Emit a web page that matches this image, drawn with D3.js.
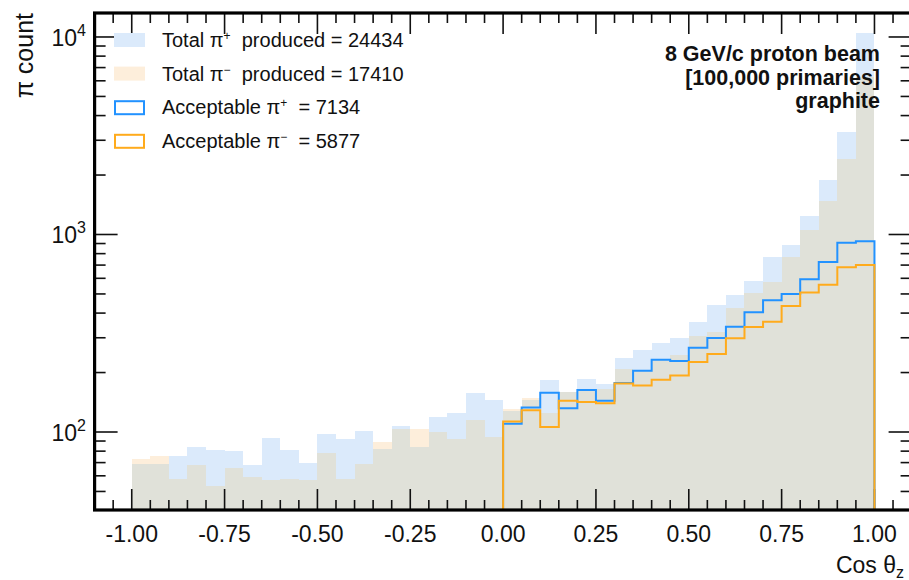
<!DOCTYPE html>
<html>
<head>
<meta charset="utf-8">
<script src="https://cdn.jsdelivr.net/npm/d3@7"></script>
<style>
  html, body { margin: 0; padding: 0; background: #fff; }
  svg { display: block; font-family: "Liberation Sans", Arial, Helvetica, sans-serif; }
</style>
</head>
<body>
<svg id="chart" width="909" height="580"></svg>
<script>
// Cos(theta_z) histogram, 40 bins of width 0.05 from -1 to 1
const binEdges = d3.range(41).map(i => -1 + i * 0.05);

// Total pi+ produced per bin
const totalPiPlus = [
  69, 69, 76, 84, 81, 80, 68, 93, 81, 70,
  98, 92, 101, 82, 107, 84, 119, 125, 157, 145,
  128, 146, 183, 159, 185, 174, 238, 260, 281, 299,
  359, 438, 494, 579, 769, 885, 1245, 1888, 3315, 10516
];

// Total pi- produced per bin
const totalPiMinus = [
  73, 76, 58, 68, 53, 66, 59, 57, 58, 57,
  78, 58, 69, 89, 104, 104, 100, 92, 115, 94,
  131, 148, 125, 159, 164, 165, 209, 203, 232, 245,
  306, 322, 426, 507, 575, 772, 1054, 1478, 2403, 6250
];

// Acceptable pions exist only for forward bins (0 .. 1)
const acceptBinEdges = d3.range(21).map(i => i * 0.05);
const acceptPiPlus = [
  110, 133, 158, 132, 163, 144, 177, 204, 232, 229,
  267, 299, 341, 404, 464, 500, 593, 726, 909, 924
];
const acceptPiMinus = [
  113, 129, 106, 144, 142, 140, 176, 172, 184, 193,
  226, 248, 298, 340, 362, 434, 509, 556, 683, 700
];

const xTickValues = [-1, -0.75, -0.5, -0.25, 0, 0.25, 0.5, 0.75, 1];
const yMajorTicks = [100, 1000, 10000];
const yTickExponents = ["2", "3", "4"];

const legendLabels = [
  { pre: "Total \u03c0", sup: "+", post: "  produced = 24434" },
  { pre: "Total \u03c0", sup: "\u2212", post: "  produced = 17410" },
  { pre: "Acceptable \u03c0", sup: "+", post: "  = 7134" },
  { pre: "Acceptable \u03c0", sup: "\u2212", post: "  = 5877" }
];
const headerLines = ["8 GeV/c proton beam", "[100,000 primaries]", "graphite"];

// colours
const cBlueFill = "#dbeafb";
const cOrangeFill = "#fdeedb";
const cOverlap = "#e0e1d9";
const cBlueLine = "#2292ff";
const cOrangeLine = "#ffab1c";

const svg = d3.select("#chart");
const plotLeft = 94.6, plotRight = 911.6, plotTop = 13, plotBottom = 510;

const x = d3.scaleLinear().domain([-1.1, 1.1]).range([plotLeft, plotRight]);
const y = d3.scaleLog().domain([40.28, 13226]).range([plotBottom, plotTop]);

svg.append("clipPath").attr("id", "plotClip")
  .append("rect").attr("x", plotLeft).attr("y", plotTop)
  .attr("width", plotRight - plotLeft).attr("height", plotBottom - plotTop);

const plot = svg.append("g").attr("clip-path", "url(#plotClip)");

const bins = totalPiPlus.map((v, i) => ({
  lo: binEdges[i], hi: binEdges[i + 1],
  plus: v, minus: totalPiMinus[i]
}));

function barLayer(cls, valueOf, color) {
  plot.append("g").attr("class", cls).selectAll("rect").data(bins).join("rect")
    .attr("x", d => x(d.lo))
    .attr("width", d => x(d.hi) - x(d.lo))
    .attr("y", d => y(valueOf(d)))
    .attr("height", d => plotBottom - y(valueOf(d)))
    .attr("fill", color)
    .attr("shape-rendering", "crispEdges");
}
barLayer("tot-plus", d => d.plus, cBlueFill);
barLayer("tot-minus", d => d.minus, cOrangeFill);
barLayer("overlap", d => Math.min(d.plus, d.minus), cOverlap);

// ticks
const xMinor = d3.range(-22, 23).map(i => i * 0.05).filter(v => v > -1.1 && v < 1.1);
const isMajorX = v => Math.abs(v * 4 - Math.round(v * 4)) < 1e-6;
const tickG = svg.append("g").attr("stroke", "#111");
xMinor.forEach(v => {
  const len = isMajorX(v) ? 21 : 10;
  tickG.append("line").attr("x1", x(v)).attr("x2", x(v))
    .attr("y1", plotBottom).attr("y2", plotBottom - len).attr("stroke-width", 1.6);
  tickG.append("line").attr("x1", x(v)).attr("x2", x(v))
    .attr("y1", plotTop).attr("y2", plotTop + len).attr("stroke-width", 1.6);
});
const yMinor = [];
[10, 100, 1000].forEach(dec => d3.range(2, 10).forEach(k => {
  const v = dec * k;
  if (v > y.domain()[0] && v < y.domain()[1]) yMinor.push(v);
}));
yMinor.forEach(v => {
  tickG.append("line").attr("x1", plotLeft).attr("x2", plotLeft + 11)
    .attr("y1", y(v)).attr("y2", y(v)).attr("stroke-width", 1.6);
  tickG.append("line").attr("x1", plotRight).attr("x2", plotRight - 11)
    .attr("y1", y(v)).attr("y2", y(v)).attr("stroke-width", 1.6);
});
yMajorTicks.forEach(v => {
  tickG.append("line").attr("x1", plotLeft).attr("x2", plotLeft + 23)
    .attr("y1", y(v)).attr("y2", y(v)).attr("stroke-width", 1.6);
  tickG.append("line").attr("x1", plotRight).attr("x2", plotRight - 23)
    .attr("y1", y(v)).attr("y2", y(v)).attr("stroke-width", 1.6);
});

// step outlines for the accepted pions (drawn above the tick marks)
function stepPoints(values) {
  const pts = [[x(acceptBinEdges[0]), plotBottom]];
  values.forEach((v, i) => {
    pts.push([x(acceptBinEdges[i]), y(v)]);
    pts.push([x(acceptBinEdges[i + 1]), y(v)]);
  });
  pts.push([x(acceptBinEdges[acceptBinEdges.length - 1]), plotBottom]);
  return pts;
}
const line = d3.line();
const lines = svg.append("g").attr("clip-path", "url(#plotClip)");
lines.append("path").attr("d", line(stepPoints(acceptPiPlus)))
  .attr("fill", "none").attr("stroke", cBlueLine).attr("stroke-width", 2);
lines.append("path").attr("d", line(stepPoints(acceptPiMinus)))
  .attr("fill", "none").attr("stroke", cOrangeLine).attr("stroke-width", 2);

// frame
svg.append("rect").attr("x", plotLeft).attr("y", plotTop)
  .attr("width", plotRight - plotLeft).attr("height", plotBottom - plotTop)
  .attr("fill", "none").attr("stroke", "#000").attr("stroke-width", 3.2);

// x tick labels
svg.append("g").selectAll("text").data(xTickValues).join("text")
  .attr("x", d => x(d)).attr("y", 542)
  .attr("text-anchor", "middle").attr("font-size", 23).attr("fill", "#111")
  .text(d => d3.format(".2f")(d).replace("\u2212", "-"));

// y tick labels (powers of ten)
yMajorTicks.forEach((v, i) => {
  const t = svg.append("text").attr("x", 86).attr("y", y(v) + 9)
    .attr("text-anchor", "end").attr("font-size", 23).attr("fill", "#111");
  t.append("tspan").text("10");
  t.append("tspan").attr("dy", -10).attr("font-size", 16).text(yTickExponents[i]);
});

// axis titles
svg.append("text").attr("transform", "translate(33,13) rotate(-90)")
  .attr("text-anchor", "end").attr("font-size", 25).attr("fill", "#111")
  .text("\u03c0 count");
const xt = svg.append("text").attr("x", 904).attr("y", 573)
  .attr("text-anchor", "end").attr("font-size", 23).attr("fill", "#111");
xt.append("tspan").text("Cos \u03b8");
xt.append("tspan").attr("dy", 5).attr("font-size", 16).text("z");

// legend
const legend = svg.append("g").attr("transform", "translate(114,33)");
const swatches = [
  { fill: cBlueFill, stroke: "none" },
  { fill: cOrangeFill, stroke: "none" },
  { fill: "#fff", stroke: cBlueLine },
  { fill: "#fff", stroke: cOrangeLine }
];
legendLabels.forEach((d, i) => {
  const g = legend.append("g").attr("transform", `translate(0,${i * 33.6})`);
  const s = swatches[i];
  if (s.stroke === "none") {
    g.append("rect").attr("x", 0).attr("y", 0).attr("width", 31).attr("height", 14).attr("fill", s.fill);
  } else {
    g.append("rect").attr("x", 1).attr("y", 1).attr("width", 29).attr("height", 13)
      .attr("fill", s.fill).attr("stroke", s.stroke).attr("stroke-width", 2);
  }
  const t = g.append("text").attr("x", 48).attr("y", 14)
    .attr("font-size", 20).attr("fill", "#111").attr("xml:space", "preserve")
    .style("white-space", "pre");
  t.append("tspan").text(d.pre);
  t.append("tspan").attr("dy", -7).attr("font-size", 12).text(d.sup);
  t.append("tspan").attr("dy", 7).text(d.post);
});

// header text
const hdr = svg.append("text").attr("text-anchor", "end")
  .attr("font-size", 21.5).attr("font-weight", "bold").attr("fill", "#111");
headerLines.forEach((s, i) => {
  hdr.append("tspan").attr("x", 880).attr("y", 61 + i * 23.5).text(s);
});
</script>
</body>
</html>
